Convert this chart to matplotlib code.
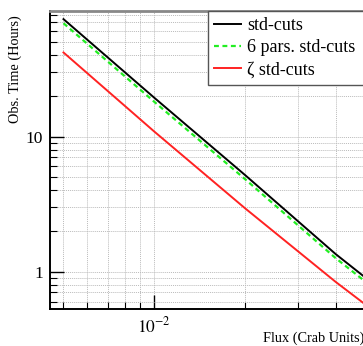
import numpy as np
import matplotlib
matplotlib.use("Agg")
import matplotlib.pyplot as plt
from matplotlib.ticker import LogLocator, NullFormatter, FixedLocator, FixedFormatter

# values (flux in Crab units, time in hours)
flux = [0.005, 0.01, 0.02, 0.04, 0.05]
t_std = [74.0, 19.4, 5.2, 1.35, 0.91]
t_6par = [69.0, 18.1, 4.85, 1.26, 0.85]
t_zeta = [41.9, 10.9, 2.95, 0.84, 0.575]

labels = ["std-cuts", "6 pars. std-cuts", "\u03b6 std-cuts"]

plt.rcParams["font.family"] = ["Liberation Serif", "DejaVu Serif"]
plt.rcParams["mathtext.fontset"] = "stix"

fig = plt.figure(figsize=(3.63, 3.46), dpi=100)
ax = fig.add_axes([50 / 363, 1 - 309 / 346, 316 / 363, 298 / 346])

ax.plot(flux, t_std, color="black", lw=1.4, label=labels[0])
ax.plot(flux, t_6par, color="#22ee22", lw=1.6, ls=(0, (2.2, 1.6)), label=labels[1])
ax.plot(flux, t_zeta, color="#ff2222", lw=1.4, label=labels[2])

ax.set_xscale("log")
ax.set_yscale("log")
ax.set_xlim(0.00451, 0.0505)
ax.set_ylim(0.528, 85)

ax.xaxis.set_major_locator(FixedLocator([0.01]))
ax.xaxis.set_major_formatter(FixedFormatter([r"$10^{-2}$"]))
ax.xaxis.set_minor_locator(LogLocator(base=10, subs=np.arange(2, 10)))
ax.xaxis.set_minor_formatter(NullFormatter())
ax.yaxis.set_major_locator(FixedLocator([1, 10]))
ax.yaxis.set_major_formatter(FixedFormatter(["1", "10"]))
ax.yaxis.set_minor_locator(LogLocator(base=10, subs=np.arange(2, 10)))
ax.yaxis.set_minor_formatter(NullFormatter())

ax.tick_params(which="major", direction="in", length=10, width=1, labelsize=12.5, pad=5)
ax.tick_params(which="minor", direction="in", length=5, width=0.8)
ax.tick_params(axis="x", which="major", pad=5)

ax.grid(which="both", color="#bbbbbb", ls=(0, (1, 1)), lw=0.7)

for s in ["left", "bottom"]:
    ax.spines[s].set_linewidth(1.4)
ax.spines["top"].set_color("#888888")
ax.spines["top"].set_linewidth(2)
ax.spines["right"].set_visible(False)

ax.set_xlabel("Flux (Crab Units)", fontsize=10.3)
ax.xaxis.set_label_coords(0.995, -0.075)
ax.xaxis.label.set_ha("right")
ax.set_ylabel("Obs. Time (Hours)", fontsize=10.3)
ax.yaxis.set_label_coords(-0.088, 0.985)
ax.yaxis.label.set_va("bottom")
ax.yaxis.label.set_ha("right")

leg = ax.legend(loc="upper right", bbox_to_anchor=(0.5, 0.752, 0.5, 0.248),
                mode="expand", fontsize=13, frameon=True, fancybox=False,
                borderaxespad=0, handlelength=1.5, handletextpad=0.3,
                labelspacing=0.28, borderpad=0.35)
leg.get_frame().set_edgecolor("#555555")
leg.get_frame().set_linewidth(1)
leg.get_frame().set_alpha(1)

fig.savefig("out.png", dpi=100)
